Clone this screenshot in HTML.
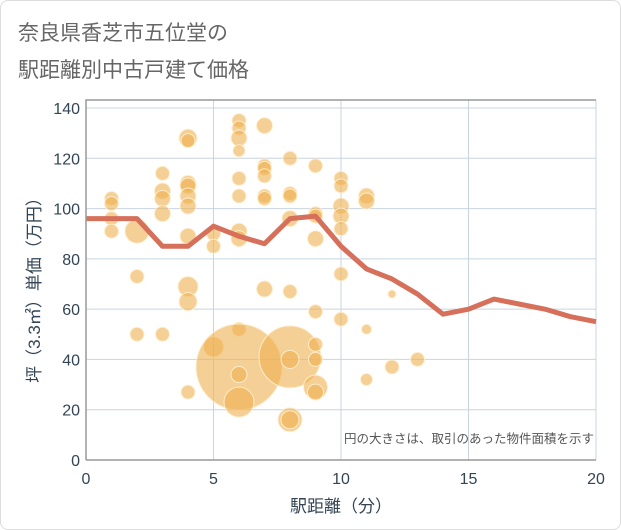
<!DOCTYPE html>
<html><head><meta charset="utf-8">
<style>
body{margin:0;background:#fff;font-family:"Liberation Sans","Noto Sans CJK JP",sans-serif;}
#card{position:absolute;left:0;top:0;width:619px;height:528px;border:1px solid #ddd;border-radius:8px;background:#fff;}
</style></head><body>
<div id="card"></div>
<svg id="chart" width="621" height="530" style="position:absolute;left:0;top:0">
<text x="18" y="40" font-size="21" fill="#666">奈良県香芝市五位堂の</text>
<text x="18" y="77" font-size="21" fill="#666">駅距離別中古戸建て価格</text>
<g id="grid"></g><g id="pts"></g><g id="line"></g><g id="axes"></g>
<text x="594" y="443" font-size="12.5" fill="#555" text-anchor="end">円の大きさは、取引のあった物件面積を示す</text>
<text x="341" y="512" font-size="17" fill="#345" text-anchor="middle">駅距離（分）</text>
<text transform="translate(40,286) rotate(-90)" font-size="17" fill="#345" text-anchor="middle">坪（3.3㎡）単価（万円）</text>
</svg>
<script>
const xTicks=[0,5,10,15,20];
const yTicks=[0,20,40,60,80,100,120,140];
const ptX=[1,1,1,1,2,2,2,3,3,3,3,3,4,4,4,4,4,4,4,4,4,4,5,5,5,6,6,6,6,6,6,6,6,6,6,6,6,7,7,7,7,7,7,7,8,8,8,8,8,8,8,8,8,9,9,9,9,9,9,9,9,9,10,10,10,10,10,10,10,11,11,11,11,12,12,13];
const ptY=[104,102,96,91,91,73,50,114,107,104,98,50,128,127,110,109,105,101,89,69,63,27,90,85,45,135,132,128,123,112,105,91,88,52,37,34,23,133,117,116,113,105,104,68,120,106,105,96,67,41,40,16,16,117,98,97,88,59,46,40,29,27,112,109,101,97,92,74,56,105,103,52,32,66,37,40];
const ptR=[7,7,7,7,12,7,7,7,8,8,8,7,9,7,8,8,8,8,8,10,9,7,7,7,10,7,7,8,6,7,7,8,8,7,43,8,15,8,7,7,7,7,7,8,7,7,7,8,7,31,9,12,9,7,7,7,8,7,7,7,12,8,7,7,8,8,7,7,7,8,8,5,6,4,7,7];
const lineX=[0,1,2,3,4,5,6,7,8,9,10,11,12,13,14,15,16,17,18,19,20];
const lineY=[96,96,96,85,85,93,89,86,96,97,85,76,72,66,58,60,64,62,60,57,55];
const X0=86,X1=596,Y0=460,Y1=108;
const sx=v=>X0+(X1-X0)*v/20, sy=v=>Y0-(Y0-Y1)*v/140;
const NS="http://www.w3.org/2000/svg";
function mk(t,a,p){const e=document.createElementNS(NS,t);for(const k in a)e.setAttribute(k,a[k]);p.appendChild(e);return e;}
const grid=document.getElementById('grid'),axes=document.getElementById('axes'),pts=document.getElementById('pts'),line=document.getElementById('line');
mk('rect',{x:X0,y:100,width:X1-X0,height:Y0-100,fill:'#fff'},grid);
yTicks.forEach(v=>{const l=mk('line',{x1:X0,x2:X1,y1:sy(v),y2:sy(v),stroke:'#c8d4e0','stroke-width':1},grid);


const t=mk('text',{x:X0-6,y:sy(v)+6,'font-size':16,fill:'#345','text-anchor':'end'},axes);t.textContent=v;

});
xTicks.forEach(v=>{const l=mk('line',{x1:sx(v),x2:sx(v),y1:100,y2:Y0,stroke:'#c8d4e0','stroke-width':1},grid);


const t=mk('text',{x:sx(v),y:Y0+24,'font-size':16,fill:'#345','text-anchor':'middle'},axes);t.textContent=v;

});
mk('path',{d:`M${X0},${Y0} L${X0},100 L${X1},100`,stroke:'#999',fill:'none','stroke-width':1.5},axes);
mk('line',{x1:X0,x2:X1,y1:Y0,y2:Y0,stroke:'#999','stroke-width':1.5},axes);
ptX.forEach((x,i)=>{const c=mk('circle',{cx:sx(x),cy:sy(ptY[i]),r:ptR[i],fill:'rgba(238,176,80,0.6)',stroke:'rgba(255,240,210,0.9)','stroke-width':1},pts);

});
const p=mk('polyline',{points:lineX.map((x,i)=>sx(x)+','+sy(lineY[i])).join(' '),fill:'none',stroke:'#d6705a','stroke-width':5,'stroke-linejoin':'round'},line);


</script>
</body></html>
